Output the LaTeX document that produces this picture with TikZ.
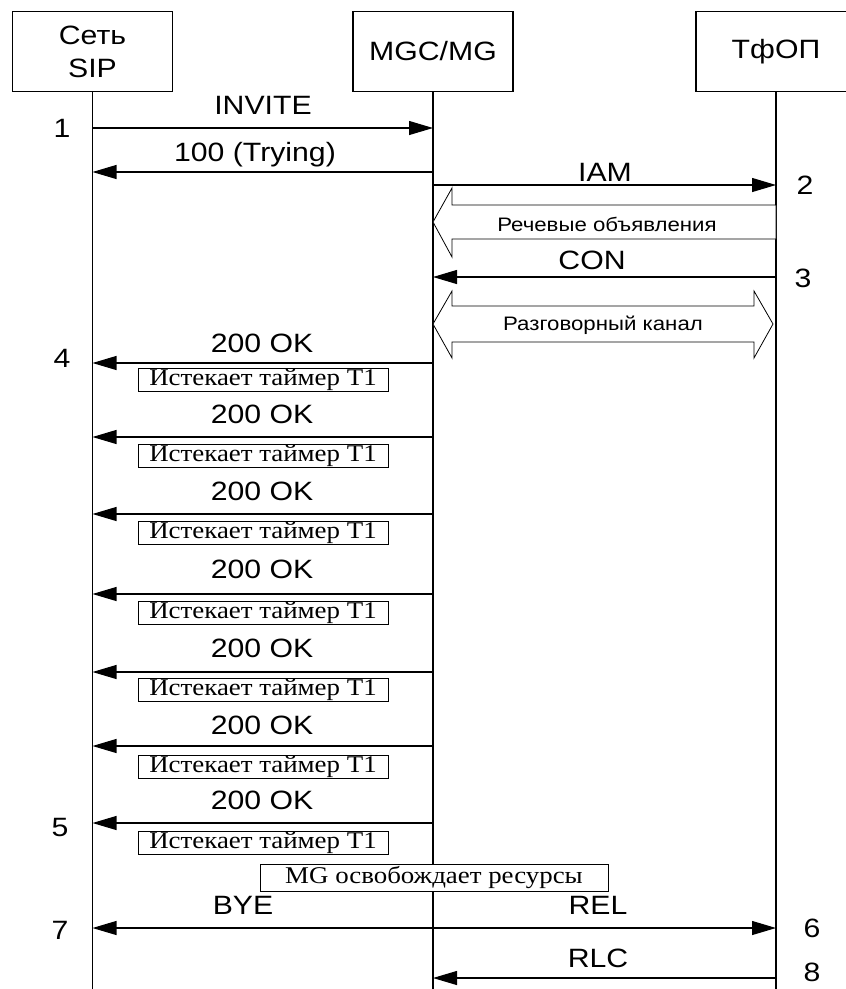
\documentclass[tikz,border=0pt]{standalone}
\usepackage{fontspec}
\setmainfont{Liberation Sans}[FakeStretch=1.14]
\newfontfamily\timerfont{Liberation Serif}[FakeStretch=1.12]
\usetikzlibrary{arrows.meta}
\tikzset{
  big/.style={font=\fontsize{26.5}{33}\selectfont},
  hdr/.style={draw, line width=1.1pt, minimum width=160pt, minimum height=80pt, inner sep=0pt, align=center, big},
  life/.style={line width=1.1pt},
  msg/.style={line width=1.1pt, -{Triangle[length=24pt,width=14pt]}},
  msgboth/.style={line width=1.1pt, {Triangle[length=24pt,width=14pt]}-{Triangle[length=24pt,width=14pt]}},
  lbl/.style={big, anchor=base, inner sep=0pt},
  small/.style={font=\fontsize{19.5}{22}\selectfont, anchor=base, inner sep=0pt},
  hollow/.style={draw, line width=0.8pt, fill=white},
  timer/.style={draw, line width=1pt, minimum width=250pt, minimum height=23pt, inner sep=0pt, font=\timerfont\fontsize{24}{26}\selectfont},
}
\begin{document}
\begin{tikzpicture}[x=1pt, y=-1pt]
\useasboundingbox (0,0) rectangle (846,989);
% headers
\node[hdr] (sip) at (92.5,51.5) {Сеть\\SIP};
\node[hdr] (mgc) at (433,51.5) {MGC/MG};
\node[hdr] (pstn) at (776,51.5) {ТфОП};
% lifelines
\coordinate (sipB) at (92.5,989);
\coordinate (mgcB) at (433,989);
\coordinate (pstnB) at (776,989);
\draw[life] (sip.south) -- (sipB);
\draw[life] (mgc.south) -- (mgcB);
\draw[life] (pstn.south) -- (pstnB);
% message anchors
\foreach \n/\y in {1/128,2/172,3/185,4/277,5/363,6/437,7/514,8/594,9/672,10/746,11/823,12/928,13/978}{
  \coordinate (s\n) at (92.5,\y);
  \coordinate (m\n) at (433,\y);
  \coordinate (p\n) at (776,\y);
}
% INVITE
\draw[msg] (s1) -- (m1);
\node[lbl] (tInvite) at (263,114) {INVITE};
\node[lbl] (n1) at (62,137) {1};
% 100 Trying
\draw[msg] (m2) -- (s2);
\node[lbl] (tTry) at (255,161) {100 (Trying)};
% IAM
\draw[msg] (m3) -- (p3);
\node[lbl] (tIam) at (605,181) {IAM};
\node[lbl] (n2) at (805,194) {2};
% speech announcements (hollow arrow)
\draw[hollow] (433,222) -- (452,188) -- (452,205) -- (776,205) -- (776,239) -- (452,239) -- (452,257) -- cycle;
\node[small] (tSpeech) at (607,231) {Речевые объявления};
% CON
\draw[msg] (p4) -- (m4);
\node[lbl] (tCon) at (592,269) {CON};
\node[lbl] (n3) at (803,287) {3};
% talk channel (hollow double arrow)
\draw[hollow] (433,324) -- (452,291) -- (452,306) -- (754,306) -- (754,291) -- (773,324) -- (754,358) -- (754,342) -- (452,342) -- (452,358) -- cycle;
\node[small] (tTalk) at (603,330) {Разговорный канал};
\draw[life] (776,291) -- (776,358);
% 200 OK repeats
\foreach \n/\ly/\by in {5/352/379.5,6/423/456,7/500/533,8/578/613,9/657/690,10/734/767,11/809/843}{
  \draw[msg] (m\n) -- (s\n);
  \node[lbl] (ok\n) at (262,\ly) {200 OK};
  \node[timer] (tm\n) at (263,\by) {Истекает таймер Т1};
}
\node[lbl] (n4) at (62,367) {4};
\node[lbl] (n5) at (60,836) {5};
% MG releases resources
\node[timer, minimum width=348pt, minimum height=27pt, fill=white] (rel) at (434,877.5) {MG освобождает ресурсы};
% BYE / REL
\draw[msgboth] (s12) -- (p12);
\node[lbl] (tBye) at (243,914) {BYE};
\node[lbl] (tRel) at (598,914) {REL};
\node[lbl] (n7) at (60,939) {7};
\node[lbl] (n6) at (812,937) {6};
% RLC
\draw[msg] (p13) -- (m13);
\node[lbl] (tRlc) at (598,967) {RLC};
\node[lbl] (n8) at (812,981) {8};
\end{tikzpicture}
\end{document}
